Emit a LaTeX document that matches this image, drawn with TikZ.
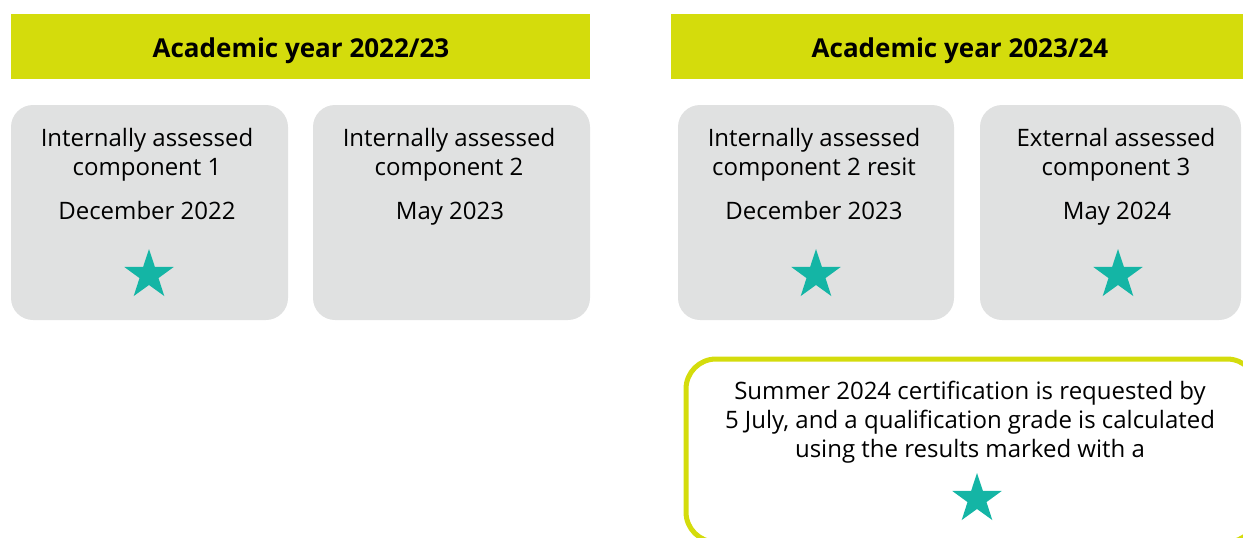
\documentclass[tikz,border=0pt]{standalone}
\usepackage{fontspec}
\setmainfont{Open Sans}
\usetikzlibrary{shapes.geometric}
\definecolor{lime}{HTML}{D4DC0C}
\definecolor{boxgray}{HTML}{E0E1E1}
\definecolor{teal}{HTML}{14B5A5}
\tikzset{
  header/.style={fill=lime, draw=none},
  headtext/.style={font=\fontsize{26}{30}\selectfont\bfseries, text=black, inner sep=0pt, anchor=base},
  graybox/.style={fill=boxgray, draw=none, rounded corners=22pt},
  body/.style={font=\fontsize{24}{29}\selectfont, inner sep=0pt, anchor=base},
  starmark/.style={star, star points=5, star point ratio=2.6, fill=teal, draw=none, minimum size=52pt, inner sep=0pt},
}
\begin{document}
\begin{tikzpicture}[x=1pt,y=-1pt]
\useasboundingbox (0,0) rectangle (1243,538);
\clip (0,0) rectangle (1243,538);
% headers
\fill[header] (11,14) rectangle (590,79);
\node[headtext] (h1) at (301,57) {Academic year 2022/23};
\fill[header] (671,14) rectangle (1249,79);
\node[headtext] (h2) at (960,57) {Academic year 2023/24};
% gray boxes
\fill[graybox] (11,105) rectangle (288,320);
\fill[graybox] (313,105) rectangle (590,320);
\fill[graybox] (678,105) rectangle (954,320);
\fill[graybox] (980,105) rectangle (1241,320);
% box 1
\node[body] (t1a) at (147,146) {Internally assessed};
\node[body] (t1b) at (147,175) {component 1};
\node[body] (d1) at (147,219) {December 2022};
\node[starmark] (s1) at (149,275) {};
% box 2
\node[body] (t2a) at (449,146) {Internally assessed};
\node[body] (t2b) at (449,175) {component 2};
\node[body] (d2) at (450,219) {May 2023};
% box 3
\node[body] (t3a) at (814,146) {Internally assessed};
\node[body] (t3b) at (814,175) {component 2 resit};
\node[body] (d3) at (814,219) {December 2023};
\node[starmark] (s3) at (816,275) {};
% box 4
\node[body] (t4a) at (1116,146) {External assessed};
\node[body] (t4b) at (1116,175) {component 3};
\node[body] (d4) at (1117,219) {May 2024};
\node[starmark] (s4) at (1118,275) {};
% bottom box
\draw[draw=lime, line width=5pt, rounded corners=30pt] (686,359) rectangle (1257,542);
\node[body] (i1) at (970,399) {Summer 2024 certification is requested by};
\node[body] (i2) at (970,428) {5 July, and a qualification grade is calculated};
\node[body] (i3) at (970,457) {using the results marked with a};
\node[starmark] (s5) at (977,499) {};
\end{tikzpicture}
\end{document}
